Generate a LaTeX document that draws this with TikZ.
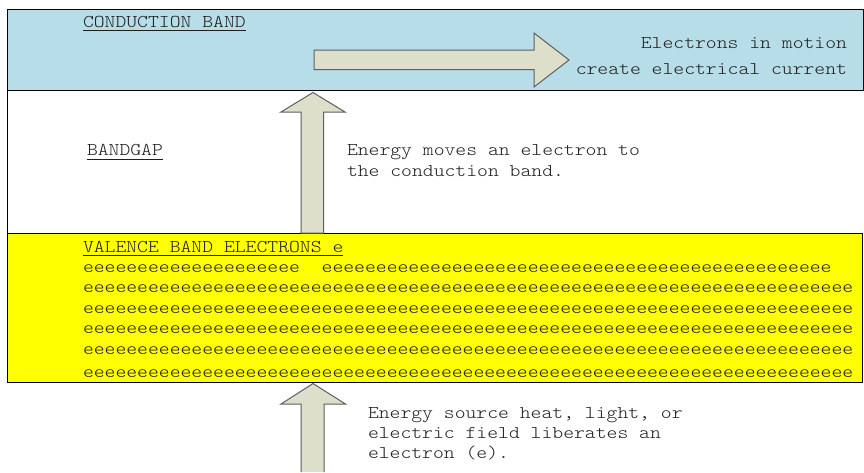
\documentclass[tikz,border=0pt]{standalone}
\usepackage{fontspec}
\newfontfamily\bandmono{lmmonolt10-regular.otf}[FakeStretch=1.148]
\definecolor{condblue}{RGB}{183,221,232}
\definecolor{valyellow}{RGB}{255,255,0}
\definecolor{arrowfill}{RGB}{221,223,203}
\definecolor{arrowline}{RGB}{95,95,95}
\definecolor{txtcol}{RGB}{30,30,30}
\ExplSyntaxOn
\NewDocumentCommand\erep{m}{\prg_replicate:nn{#1}{e}}
\ExplSyntaxOff
\tikzset{
  txt/.style={font=\bandmono\fontsize{18}{20}\selectfont, inner sep=0pt, outer sep=0pt, anchor=base west, text=txtcol},
  rtxt/.style={txt, anchor=base east},
  band/.style={draw=black, line width=1pt},
  blockarrow/.style={fill=arrowfill, draw=arrowline, line width=1pt, line join=miter},
  ulline/.style={draw=txtcol, line width=0.9pt}
}
\begin{document}
\begin{tikzpicture}[x=1pt,y=-1pt]
\useasboundingbox (0,0) rectangle (864,472);
\fill[white] (0,0) rectangle (864,472);
% bands
\draw[band, fill=condblue] (7,9) rectangle (863,90);
\draw[band] (7,90) -- (7,233);
\draw[band, fill=valyellow] (7,233) rectangle (862,382);

% conduction band texts
\node[txt] (cbt) at (83,27) {CONDUCTION BAND};
\draw[ulline] ([yshift=-3.6pt]cbt.base west) -- ([yshift=-3.6pt]cbt.base east);
\node[rtxt] (mot1) at (847,48.3) {Electrons in motion};
\node[rtxt] (mot2) at (847,74) {create electrical current};

% bandgap texts
\node[txt] (bgt) at (87,155) {BANDGAP};
\draw[ulline] ([yshift=-4pt]bgt.base west) -- ([yshift=-4pt]bgt.base east);
\node[txt] (en1) at (347,155) {Energy moves an electron to};
\node[txt] (en2) at (347,176.5) {the conduction band.};

% valence band texts
\node[txt] (vbt) at (83,252) {VALENCE BAND ELECTRONS e};
\draw[ulline] ([yshift=-3.5pt]vbt.base west) -- ([yshift=-3.5pt]vbt.base east);
\node[txt] (r1) at (83,272.3) {\erep{20}\ \ \erep{47}};
\node[txt] (r2) at (83,292.7) {\erep{71}};
\node[txt] (r3) at (83,313) {\erep{71}};
\node[txt] (r4) at (83,333.3) {\erep{71}};
\node[txt] (r5) at (83,354) {\erep{71}};
\node[txt] (r6) at (83,377.3) {\erep{71}};

% source texts
\node[txt] (src1) at (368,418.3) {Energy source heat, light, or};
\node[txt] (src2) at (368,438.5) {electric field liberates an};
\node[txt] (src3) at (368,458.5) {electron (e).};

% block arrows
\draw[blockarrow] (314,50) -- (534,50) -- (534,33) -- (569,60) -- (534,87) -- (534,69.5) -- (314,69.5) -- cycle;
\draw[blockarrow] (301,233) -- (301,112) -- (281,112) -- (313,92.5) -- (345,112) -- (323.5,112) -- (323.5,233) -- cycle;
\path[blockarrow] (301,472) -- (301,404) -- (281,404) -- (313,383.5) -- (345.5,404) -- (324,404) -- (324,472);
\end{tikzpicture}
\end{document}
